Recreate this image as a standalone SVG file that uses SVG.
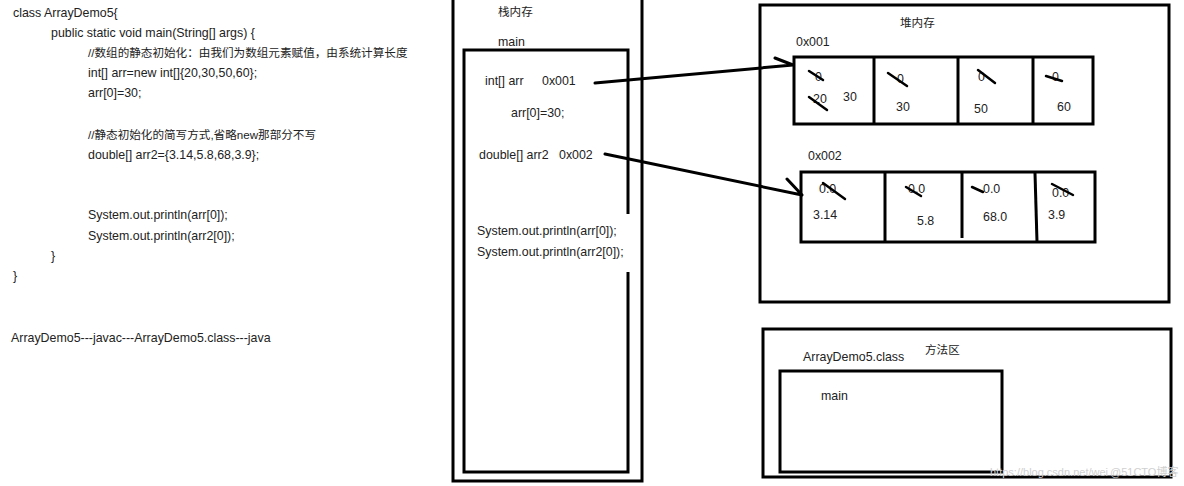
<svg xmlns="http://www.w3.org/2000/svg" width="1184" height="486" viewBox="0 0 1184 486">
<style>
text{font-family:"Liberation Sans","Noto Sans CJK SC",sans-serif;font-size:12.4px;fill:#222}
text.cj{font-size:11.6px}
.box{fill:none;stroke:#000;stroke-width:3}
.ln{fill:none;stroke:#000;stroke-width:3;stroke-linecap:round}
.st{fill:none;stroke:#000;stroke-width:2.5;stroke-linecap:round}
text.wm{fill:#d0d0d0;font-size:11px}
</style>
<rect width="1184" height="486" fill="#fff"/>
<g id="code">
<text x="13" y="17">class  ArrayDemo5{</text>
<text x="51" y="37">public static void main(String[] args) {</text>
<text class="cj" x="88" y="57">//数组的静态初始化：由我们为数组元素赋值，由系统计算长度</text>
<text x="88" y="77">int[] arr=new int[]{20,30,50,60};</text>
<text x="88" y="97">arr[0]=30;</text>
<text class="cj" x="88" y="139">//静态初始化的简写方式,省略new那部分不写</text>
<text x="88" y="159">double[] arr2={3.14,5.8,68,3.9};</text>
<text x="88" y="219">System.out.println(arr[0]);</text>
<text x="88" y="240">System.out.println(arr2[0]);</text>
<text x="51" y="260">}</text>
<text x="13" y="280">}</text>
<text x="11" y="342">ArrayDemo5---javac---ArrayDemo5.class---java</text>
</g>
<g id="stack">
<path class="box" d="M453,0 V481 H642 V0"/>
<text class="cj" x="498" y="16">栈内存</text>
<text x="498" y="46">main</text>
</g>
<g id="stack-main">
<path class="box" d="M628,214 V50 H464 V472 H628 V272"/>
<text x="485" y="85">int[] arr</text>
<text x="542" y="85">0x001</text>
<text x="511" y="117">arr[0]=30;</text>
<text x="479" y="159">double[] arr2</text>
<text x="559" y="159">0x002</text>
<text x="477" y="235">System.out.println(arr[0]);</text>
<text x="477" y="256">System.out.println(arr2[0]);</text>
</g>
<g id="heap">
<rect class="box" x="760" y="5" width="409" height="297"/>
<text class="cj" x="900" y="27">堆内存</text>
</g>
<g id="array1">
<text x="796" y="46">0x001</text>
<rect class="box" x="794" y="57" width="299" height="67"/>
<line class="box" x1="874" y1="57" x2="874" y2="124"/>
<line class="box" x1="958" y1="57" x2="958" y2="124"/>
<line class="box" x1="1033" y1="57" x2="1033" y2="124"/>
<text x="815" y="81">0</text>
<text x="813" y="103">20</text>
<text x="843" y="101">30</text>
<text x="897" y="83">0</text>
<text x="896" y="111">30</text>
<text x="978" y="81">0</text>
<text x="974" y="113">50</text>
<text x="1052" y="81">0</text>
<text x="1057" y="111">60</text>
<line class="st" x1="809" y1="71" x2="823" y2="80"/>
<line class="st" x1="809" y1="97" x2="827" y2="110"/>
<line class="st" x1="888" y1="73" x2="907" y2="86"/>
<line class="st" x1="978" y1="70" x2="995" y2="83"/>
<line class="st" x1="1046" y1="76" x2="1062" y2="81"/>
</g>
<g id="array2">
<text x="808" y="160">0x002</text>
<rect class="box" x="801" y="172" width="294" height="70"/>
<line class="box" x1="885" y1="172" x2="885" y2="242"/>
<line class="box" x1="962" y1="173" x2="962" y2="238"/>
<line class="box" x1="1035" y1="173" x2="1037" y2="242"/>
<text x="819" y="193">0.0</text>
<text x="813" y="219">3.14</text>
<text x="908" y="193">0.0</text>
<text x="917" y="225">5.8</text>
<text x="983" y="193">0.0</text>
<text x="983" y="221">68.0</text>
<text x="1052" y="197">0.0</text>
<text x="1048" y="219">3.9</text>
<line class="st" x1="823" y1="183" x2="845" y2="199"/>
<line class="st" x1="906" y1="187" x2="921" y2="196"/>
<line class="st" x1="972" y1="187" x2="983" y2="192"/>
<line class="st" x1="1052" y1="184" x2="1073" y2="195"/>
</g>
<g id="method">
<rect class="box" x="763" y="329" width="408" height="148"/>
<text class="cj" x="925" y="354">方法区</text>
<text x="803" y="361">ArrayDemo5.class</text>
</g>
<g id="method-main">
<rect class="box" x="780" y="371" width="222" height="101"/>
<text x="821" y="400">main</text>
</g>
<g id="connectors">
<path class="ln" d="M595,83 L793,65 M775,58 L793,65"/>
<path class="ln" d="M605,154 L802,195 M787,179 L802,195"/>
</g>
<g id="watermark">
<text class="wm" x="990" y="476">https://blog.csdn.net/wei</text>
<text class="wm" x="1110" y="476">@51CTO博客</text>
</g>
</svg>
